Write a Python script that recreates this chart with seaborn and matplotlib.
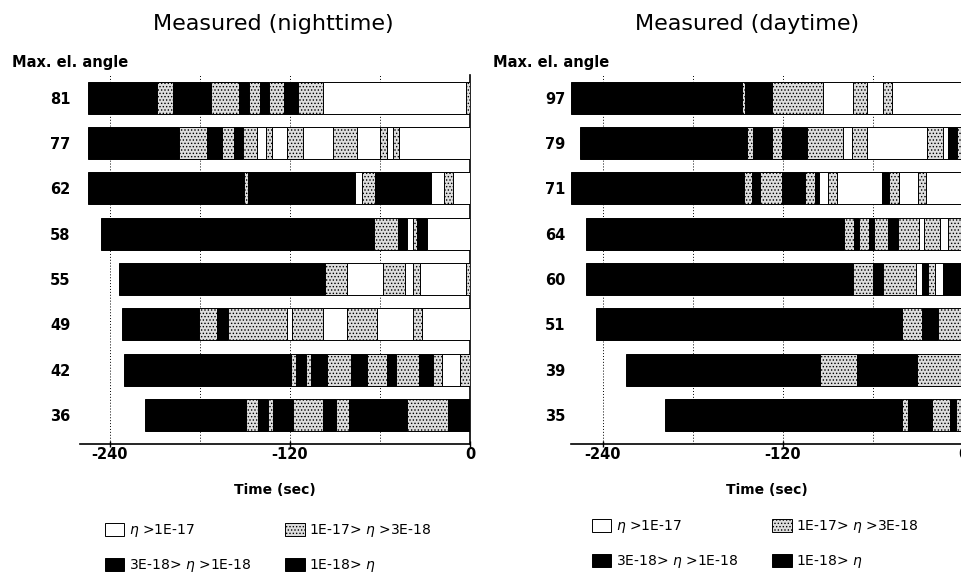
import pandas as pd
import seaborn as sns
import matplotlib.pyplot as plt
from matplotlib.patches import Patch

# ---- data (time in seconds before 0) ----
# level codes: W = eta > 1E-17, S = 1E-17 > eta > 3E-18, B = eta < 3E-18 (black)
night_angles = [81, 77, 62, 58, 55, 49, 42, 36]
night_edges = [
    [-255, -209, -198, -173, -154, -147, -140, -134, -124, -115, -98, -2.7, 0],
    [-255, -194, -175.5, -165, -157, -151, -142, -136, -132, -122, -111.5, -91.5, -75, -60, -55.5, -51.5, -47, 0],
    [-255, -150.7, -147.8, -76.7, -72.2, -63.3, -26.2, -17.3, -11.5, 0],
    [-246, -64, -47.8, -42.2, -37.8, -35.1, -28.9, 0],
    [-234, -96.7, -82.2, -58.2, -43.3, -37.8, -33.3, -2.7, 0],
    [-232, -181, -168.4, -161.3, -121.8, -118.7, -98.2, -81.8, -62.2, -37.8, -32.2, 0],
    [-230.7, -119.6, -116, -109.3, -105.8, -95.6, -79.6, -68.9, -55.6, -49.3, -33.8, -24.9, -18.9, -6.7, 0],
    [-216.4, -149.3, -141.1, -134.4, -131.6, -117.8, -97.8, -89.3, -80.4, -41.8, -14.7, 0],
]
night_codes = ["BSBSBSBSBSWS", "BSBSBSWSWSWSWSWSW", "BSBWSBWSW", "BSBWSBW",
               "BSWSWSWS", "BSBSWSWSWSW", "BSBSBSBSBSBSWS", "BSBSBSBSBSB"]

day_angles = [97, 79, 71, 64, 60, 51, 39, 35]
day_edges = [
    [-261, -147, -145.3, -127.3, -93.5, -73.1, -63.8, -53.5, -47.5, 0],
    [-255.3, -143.8, -140.2, -127.3, -120.9, -103.8, -79.8, -74, -64.2, -24.2, -13.1, -9.8, -4.2, 0],
    [-261, -146, -140.9, -135.3, -120.9, -105.3, -98.7, -95.8, -90.2, -83.8, -54.2, -49.1, -42.9, -29.8, -24.7, 0],
    [-251.3, -79.3, -72.7, -69.1, -62.4, -59.3, -49.8, -43.1, -29.1, -26, -15.3, -9.8, 0],
    [-251.3, -73.1, -60.2, -53.1, -31.3, -27.5, -23.1, -18.7, -13.1, 0],
    [-244.7, -40.9, -27.5, -16.4, 0],
    [-224.7, -95.3, -70.4, -30.9, 0],
    [-198.4, -40.9, -36.4, -20.9, -8.7, -4.7, 0],
]
day_codes = ["BSBSWSWSW", "BSBSBSWSWSWBS", "BSBSBSBWSWBSWSW", "BSBSBSBSWSWS",
             "BSBSWBSWB", "BSBS", "BSBS", "BSBSBS"]

legend_labels = [r"$\eta$ >1E-17", r"1E-17> $\eta$ >3E-18",
                 r"3E-18> $\eta$ >1E-18", r"1E-18> $\eta$"]

sns.set_theme(style="white")
plt.rcParams['font.family'] = ['DejaVu Sans']
plt.rcParams['axes.unicode_minus'] = False
plt.rcParams['hatch.linewidth'] = 0.6
plt.rcParams['text.color'] = 'black'
plt.rcParams['axes.labelcolor'] = 'black'
plt.rcParams['xtick.color'] = 'black'
plt.rcParams['ytick.color'] = 'black'

W, H = 961, 576
styles = {
    "W": dict(facecolor="white", edgecolor="black", linewidth=0.7),
    "S": dict(facecolor="#dedede", edgecolor="black", linewidth=0.7, hatch="....."),
    "B": dict(facecolor="black", edgecolor="black", linewidth=0.7),
}


def segments(angles, edges, codes):
    rows = []
    for i, (ang, e, c) in enumerate(zip(angles, edges, codes)):
        for a, b, k in zip(e[:-1], e[1:], c):
            rows.append(dict(row=i, angle=str(ang), start=a, end=b, level=k))
    return pd.DataFrame(rows)


def draw_panel(fig, x0, x1, xmin, angles, edges, codes, pad):
    ax = fig.add_axes([x0 / W, 1 - 444 / H, (x1 - x0) / W, 369 / H])
    env = pd.DataFrame({"angle": [str(a) for a in angles],
                        "start": [e[0] for e in edges]})
    # black envelope of each pass
    sns.barplot(data=env, x="start", y="angle", order=env["angle"], color="black",
                width=0.7, saturation=1, errorbar=None, orient="h", ax=ax)
    seg = segments(angles, edges, codes)
    for _, r in seg.iterrows():
        ax.barh(r["row"], r["end"] - r["start"], left=r["start"], height=0.7,
                zorder=3, **styles[r["level"]])

    ax.set_xlim(xmin, 0)
    ax.set_ylim(7.64, -0.5)
    ax.set_xticks([-240, -120, 0])
    ax.set_xticklabels(["-240", "-120", "0"], fontweight="bold", fontsize=10.5)
    ax.set_xticks([-180, -60], minor=True)
    ax.grid(True, axis="x", which="both", color="black", linestyle=(0, (1, 2)), linewidth=0.7)
    ax.grid(False, axis="y")
    ax.set_axisbelow(True)
    for s in ["top", "left"]:
        ax.spines[s].set_visible(False)
    for s in ["bottom", "right"]:
        ax.spines[s].set_color("black")
        ax.spines[s].set_linewidth(1.2)
    ax.tick_params(axis="x", which="major", direction="inout", length=5, width=1,
                   color="black", pad=0, bottom=True)
    ax.tick_params(axis="x", which="minor", length=0)
    ax.tick_params(axis="y", length=0, pad=pad, labelsize=10.5)
    for lbl in ax.get_yticklabels():
        lbl.set_fontweight("bold")
    ax.set_ylabel("")
    ax.set_xlabel("Time (sec)", fontweight="bold", fontsize=10, labelpad=15)
    return ax


fig = plt.figure(figsize=(W / 100, H / 100), dpi=100)
fig.patch.set_facecolor("white")

draw_panel(fig, 80, 470, -260, night_angles, night_edges, night_codes, pad=7)
draw_panel(fig, 571, 963, -261.3, day_angles, day_edges, day_codes, pad=4)

fig.text(273 / W, 1 - 24 / H, "Measured (nighttime)", ha="center", va="center", fontsize=16)
fig.text(747 / W, 1 - 24 / H, "Measured (daytime)", ha="center", va="center", fontsize=16)
fig.text(12 / W, 1 - 62 / H, "Max. el. angle", ha="left", va="center",
         fontsize=10.5, fontweight="bold")
fig.text(493 / W, 1 - 62 / H, "Max. el. angle", ha="left", va="center",
         fontsize=10.5, fontweight="bold")

handles = [Patch(**styles["W"]), Patch(**styles["B"]), Patch(**styles["S"]), Patch(**styles["B"])]
labels = [legend_labels[0], legend_labels[2], legend_labels[1], legend_labels[3]]
for lx, ly in [(105, 522), (592, 518)]:
    fig.legend(handles, labels, ncol=2, loc="upper left",
               bbox_to_anchor=(lx / W, 1 - ly / H), frameon=False, fontsize=10,
               borderpad=0, borderaxespad=0, handlelength=1.4, handleheight=1.1,
               handletextpad=0.35, columnspacing=2.4, labelspacing=1.3)

fig.savefig("out.png", dpi=100)
